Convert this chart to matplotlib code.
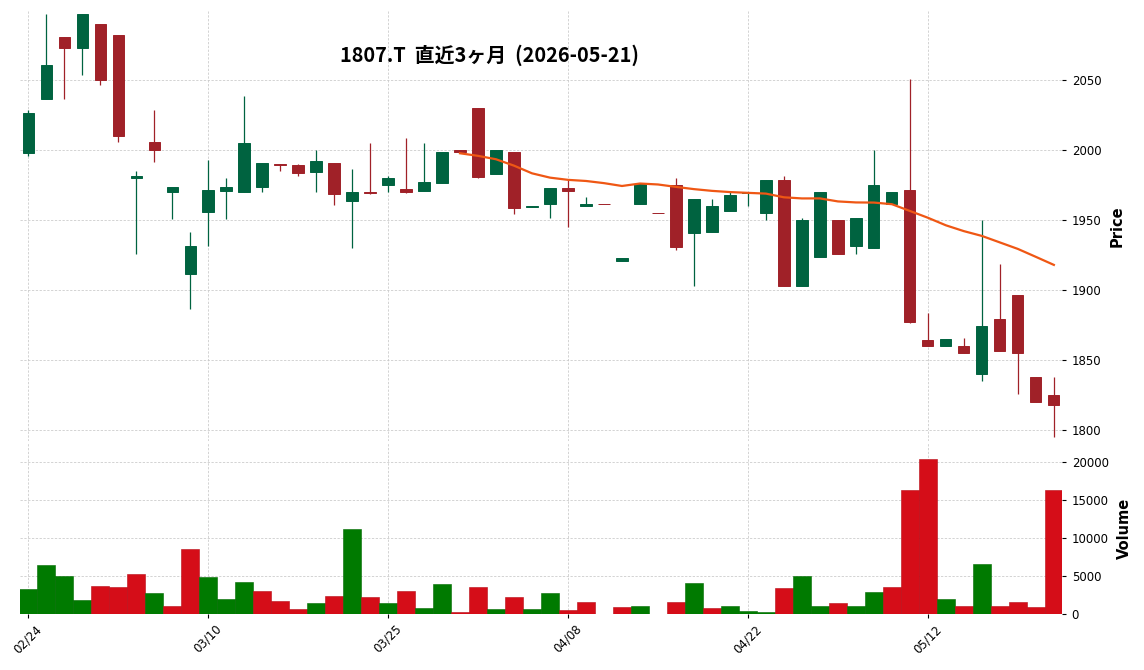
import numpy as np
import pandas as pd
import matplotlib
matplotlib.use("Agg")
import matplotlib.pyplot as plt
from matplotlib.patches import Rectangle

plt.rcParams['font.family'] = ['DejaVu Sans']

# trading days (Tokyo), 2026-02-24 .. 2026-05-21
dates = ['02/24', '02/25', '02/26', '02/27', '03/02', '03/03', '03/04', '03/05', '03/06', '03/09',
         '03/10', '03/11', '03/12', '03/13', '03/16', '03/17', '03/18', '03/19', '03/23', '03/24',
         '03/25', '03/26', '03/27', '03/30', '03/31', '04/01', '04/02', '04/03', '04/06', '04/07',
         '04/08', '04/09', '04/10', '04/13', '04/14', '04/15', '04/16', '04/17', '04/20', '04/21',
         '04/22', '04/23', '04/24', '04/27', '04/28', '04/30', '05/01', '05/07', '05/08', '05/11',
         '05/12', '05/13', '05/14', '05/15', '05/18', '05/19', '05/20', '05/21']

opens = [1998, 2037, 2081, 2073, 2090, 2082, 1980, 2006, 1970, 1912,
         1956, 1971, 1970, 1974, 1990, 1989.5, 1984.5, 1991, 1964, 1970,
         1975, 1972.5, 1971, 1977, 2000, 2030, 1983, 1999, 1959.5, 1962,
         1973, 1960, 1962, 1921, 1962, 1955.2, 1975, 1941, 1942, 1957,
         1969.5, 1955, 1979, 1903, 1924, 1950, 1932, 1930, 1962, 1972,
         1864.5, 1860, 1860, 1840.5, 1879.5, 1897, 1838, 1825]
highs = [2029, 2097, 2081, 2097, 2090, 2082, 1985, 2029, 1974, 1942,
         1993, 1980, 2039, 1991, 1990, 1990, 2000, 1991, 1987, 2005,
         1982, 2009, 2005, 1999, 2000, 2030, 2000, 1999, 1960, 1973,
         1979, 1967, 1962, 1923, 1977, 1955.2, 1980, 1965, 1965, 1970,
         1970, 1979, 1982, 1952, 1970, 1950, 1952, 2000, 1970, 2051,
         1884, 1865, 1866, 1950, 1919, 1897, 1838, 1838]
lows = [1996, 2037, 2037, 2054, 2047, 2006, 1926, 1992, 1951, 1887,
        1932, 1951, 1970, 1970, 1985, 1982, 1970, 1961, 1930, 1969,
        1970, 1969.5, 1971, 1977, 1998, 1980, 1983, 1954.5, 1959.5, 1952,
        1945, 1960, 1961.5, 1921, 1962, 1955, 1929, 1903, 1942, 1957,
        1960, 1950, 1903, 1903, 1924, 1926, 1926, 1930, 1962, 1877,
        1860, 1860, 1855, 1835, 1857, 1826, 1820.5, 1795.5]
closes = [2027, 2061, 2073, 2097, 2050, 2010.5, 1982, 2000, 1974, 1932,
          1972, 1974, 2005, 1991, 1989.5, 1984, 1992.5, 1969, 1970, 1969.5,
          1980, 1970, 1977.5, 1999, 1998.5, 1981, 2000, 1959, 1960, 1973,
          1971, 1962, 1961.5, 1923, 1976, 1955, 1931, 1965, 1960, 1968,
          1970, 1979, 1903, 1950, 1970, 1926, 1952, 1975, 1970, 1877.5,
          1860, 1865, 1855, 1874.5, 1857, 1855, 1820.5, 1818]
volumes = [3200, 6350, 4900, 1800, 3600, 3500, 5200, 2700, 1000, 8450,
           4800, 1900, 4150, 2950, 1650, 600, 1400, 2300, 11200, 2200,
           1400, 2950, 750, 3870, 220, 3480, 600, 2180, 600, 2700,
           480, 1500, 0, 870, 1000, 0, 1520, 4000, 740, 1000,
           350, 220, 3350, 4900, 1000, 1400, 1000, 2830, 3480, 16300,
           20450, 1900, 1000, 6500, 1000, 1520, 870, 16300]

mav_days = 25
title = '1807.T  直近3ヶ月  (2026-05-21)'

df = pd.DataFrame({'Open': opens, 'High': highs, 'Low': lows, 'Close': closes, 'Volume': volumes})
df['MA'] = df['Close'].rolling(mav_days).mean()
x = np.arange(len(df))

up_c, dn_c = '#006340', '#a02128'
vup_c, vdn_c = '#007a00', '#d50d18'
grid_kw = dict(color='#c8c8c8', linestyle=(0, (3, 2)), linewidth=0.55)

fig = plt.figure(figsize=(11.44, 6.70), dpi=100)
ax = fig.add_axes([0.0175, 0.3418, 0.9108, 0.6418])
axv = fig.add_axes([0.0175, 0.0843, 0.9108, 0.2545], sharex=ax)

# candles
w = 0.62
for i, r in df.iterrows():
    c = up_c if r.Close >= r.Open else dn_c
    ax.vlines(i, r.Low, r.High, color=c, linewidth=0.9, zorder=2)
    lo = min(r.Open, r.Close)
    h = abs(r.Close - r.Open)
    ax.add_patch(Rectangle((i - w / 2, lo), w, h, facecolor=c, edgecolor=c,
                           linewidth=0.7, zorder=3))

ax.plot(x, df['MA'], color='#ef5714', linewidth=1.6, zorder=4)

# volume colored by close vs previous close
prev = df['Close'].shift(1).fillna(df['Open'])
vcols = [vup_c if c >= p else vdn_c for c, p in zip(df['Close'], prev)]
vedges = ['#006a00' if c == vup_c else '#b80b15' for c in vcols]
axv.bar(x, df['Volume'], width=1.0, color=vcols, edgecolor=vedges, linewidth=0.4, zorder=2)

ax.set_xlim(-0.45, len(df) - 0.55)
ax.set_ylim(1792.5, 2099.5)
axv.set_ylim(0, df['Volume'].max() * 1.1)

ticks = x[::10]
for a in (ax, axv):
    a.set_facecolor('white')
    for s in a.spines.values():
        s.set_visible(False)
    a.grid(True, **grid_kw)
    a.set_axisbelow(True)
    a.yaxis.tick_right()
    a.yaxis.set_label_position('right')
    a.tick_params(axis='y', length=3, width=0.8, labelsize=8.5, pad=4)

ax.set_yticks([1800, 1850, 1900, 1950, 2000, 2050])
axv.set_yticks([0, 5000, 10000, 15000, 20000])
axv.set_xticks(ticks)
axv.set_xticklabels([dates[i] for i in ticks])
axv.tick_params(axis='x', length=3, width=0.8, labelsize=8.5, rotation=45)
ax.tick_params(axis='x', length=0, labelbottom=False)

ax.set_ylabel('Price', fontsize=10.5, fontweight='bold', labelpad=6)
axv.set_ylabel('Volume', fontsize=10.5, fontweight='bold', labelpad=6)

fig.text(490 / 1144, 1 - 55 / 670, title, ha='center', va='center', fontsize=14.3,
         fontweight='bold', family=['Noto Sans CJK JP', 'DejaVu Sans'])

fig.savefig('out.png', dpi=100)
